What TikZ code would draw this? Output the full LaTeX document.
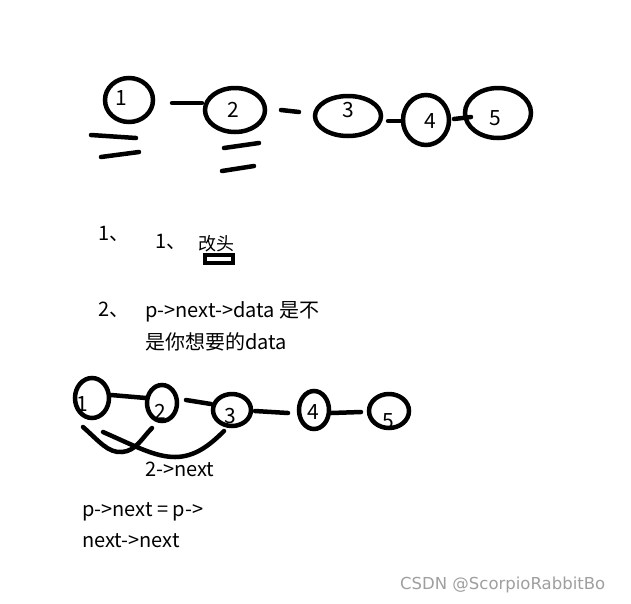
\documentclass[tikz,border=0pt]{standalone}
\usepackage{fontspec}
\setmainfont{Noto Sans CJK SC}
\newfontfamily\wmfont{DejaVu Sans}
\begin{document}
\begin{tikzpicture}[x=1pt,y=-1pt,
  pen/.style={line width=4.5pt,line cap=round},
  num/.style={font=\fontsize{21}{21}\selectfont,inner sep=0pt},
  txt/.style={font=\fontsize{20}{20}\selectfont,inner sep=0pt,anchor=base west},
  wmark/.style={font=\fontsize{16.5}{16.5}\selectfont\wmfont,text=gray!75,inner sep=0pt,anchor=base west}]
\useasboundingbox[fill=white] (0,0) rectangle (631,603);
% top row
\draw[pen] (129,100) ellipse [x radius=24,y radius=22];
\node[num] (t1) at (121,98) {1};
\draw[pen] (235,110) ellipse [x radius=30,y radius=22];
\node[num] (t2) at (233,110) {2};
\draw[pen] (348,116) ellipse [x radius=33,y radius=20];
\node[num] (t3) at (348,110) {3};
\draw[pen] (426,120) ellipse [x radius=23,y radius=25];
\node[num] (t4) at (430,121) {4};
\draw[pen] (498,113) ellipse [x radius=33,y radius=25];
\node[num] (t5) at (495,118) {5};
\coordinate (a1) at (172,103); \coordinate (a2) at (202,103);
\coordinate (b1) at (281,110); \coordinate (b2) at (299,112);
\coordinate (c1) at (388,121); \coordinate (c2) at (403,121);
\coordinate (d1) at (454,119); \coordinate (d2) at (471,117);
\draw[pen] (a1) -- (a2);
\draw[pen] (b1) -- (b2);
\draw[pen] (c1) -- (c2);
\draw[pen] (d1) -- (d2);
\coordinate (e1) at (91,135); \coordinate (e2) at (136,138);
\coordinate (f1) at (101,157); \coordinate (f2) at (139,152);
\coordinate (g1) at (224,148); \coordinate (g2) at (259,143);
\coordinate (h1) at (222,171); \coordinate (h2) at (254,166);
\draw[pen] (e1) -- (e2);
\draw[pen] (f1) -- (f2);
\draw[pen] (g1) -- (g2);
\draw[pen] (h1) -- (h2);
% text block
\node[txt] (s1) at (98,240) {1、};
\node[txt] (s2) at (155,248) {1、};
\node[txt,font=\fontsize{18}{18}\selectfont] (s3) at (198,250) {改头};
\draw[line width=4pt] (205,255) rectangle (233,263);
\node[txt] (s4) at (98,316) {2、};
\node[txt] (s5) at (145,317) {p->next->data 是不};
\node[txt] (s6) at (145,349) {是你想要的data};
% bottom row
\draw[pen] (92,398) ellipse [x radius=17,y radius=20];
\node[num] (u1) at (82,404) {1};
\draw[pen] (162,403) ellipse [x radius=15,y radius=18];
\node[num] (u2) at (160,412) {2};
\draw[pen] (232,410) ellipse [x radius=19,y radius=16];
\node[num] (u3) at (230,416) {3};
\draw[pen] (314,410) ellipse [x radius=15,y radius=19];
\node[num] (u4) at (313,412) {4};
\draw[pen] (389,411) ellipse [x radius=20,y radius=17];
\node[num] (u5) at (388,421) {5};
\coordinate (i1) at (111,395); \coordinate (i2) at (146,398);
\coordinate (j1) at (186,400); \coordinate (j2) at (211,404);
\coordinate (k1) at (255,411); \coordinate (k2) at (288,413);
\coordinate (l1) at (331,413); \coordinate (l2) at (361,412);
\draw[pen] (i1) -- (i2);
\draw[pen] (j1) -- (j2);
\draw[pen] (k1) -- (k2);
\draw[pen] (l1) -- (l2);
\coordinate (m1) at (83,427); \coordinate (m2) at (152,428);
\draw[pen] (m1) .. controls (100,442) and (108,453) .. (122,452)
  .. controls (136,451) and (142,438) .. (m2);
\coordinate (n1) at (103,432); \coordinate (n2) at (224,431);
\draw[pen] (n1) .. controls (135,446) and (155,457) .. (175,457)
  .. controls (195,457) and (210,445) .. (n2);
\node[txt] (w1) at (145,476) {2->next};
\node[txt] (w2) at (82,516) {p->next = p->};
\node[txt] (w3) at (82,547) {next->next};
\node[wmark] (wm) at (400,589) {CSDN @ScorpioRabbitBo};
\end{tikzpicture}
\end{document}
